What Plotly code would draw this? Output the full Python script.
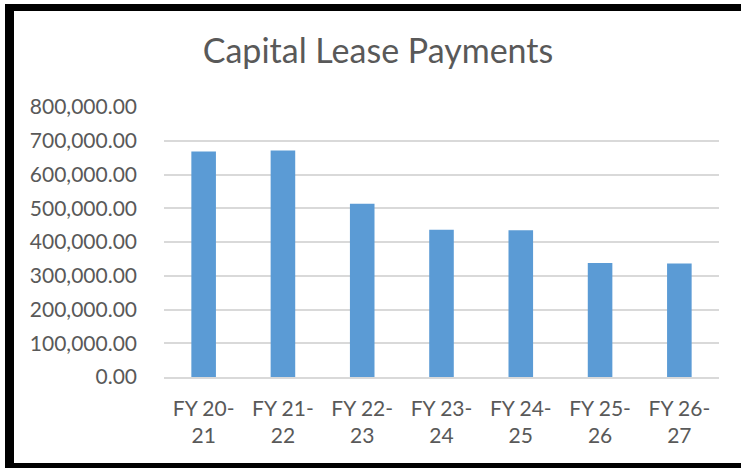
import plotly.graph_objects as go

categories = ["FY 20-<br>21", "FY 21-<br>22", "FY 22-<br>23", "FY 23-<br>24",
              "FY 24-<br>25", "FY 25-<br>26", "FY 26-<br>27"]
payments = [668000, 671000, 513000, 436000, 435000, 337500, 336500]
tick_vals = [0, 100000, 200000, 300000, 400000, 500000, 600000, 700000, 800000]
tick_text = ["0.00", "100,000.00", "200,000.00", "300,000.00", "400,000.00",
             "500,000.00", "600,000.00", "700,000.00", "800,000.00"]

W, H = 741, 468
L, R, T, B = 164, 22, 107, 91
pw, ph = W - L - R, H - T - B

def px(x):
    return (x - L) / pw

def py(y):
    return 1 - (y - T) / ph

fig = go.Figure(go.Bar(
    x=categories, y=payments, marker=dict(color="#5B9BD5", line=dict(width=0)),
    hoverinfo="x+y",
))

border = "#000000"
shapes = [
    dict(type="rect", xref="paper", yref="paper", x0=px(5), x1=px(14), y0=py(468), y1=py(4),
         fillcolor=border, line=dict(width=0), layer="above"),
    dict(type="rect", xref="paper", yref="paper", x0=px(5), x1=px(741), y0=py(11), y1=py(4),
         fillcolor=border, line=dict(width=0), layer="above"),
    dict(type="rect", xref="paper", yref="paper", x0=px(5), x1=px(741), y0=py(468), y1=py(463),
         fillcolor=border, line=dict(width=0), layer="above"),
]

fig.update_layout(
    width=W, height=H,
    margin=dict(l=L, r=R, t=T, b=B, autoexpand=False),
    paper_bgcolor="white", plot_bgcolor="white",
    font=dict(family="Lato, sans-serif", color="#595959", size=21),
    title=dict(text="Capital Lease Payments", x=378 / W, xref="container", xanchor="center",
               y=1 - 51 / H, yref="container", yanchor="middle",
               font=dict(size=34, color="#595959", family="Lato, sans-serif")),
    bargap=0.69,
    showlegend=False,
    shapes=shapes,
)
fig.update_xaxes(showgrid=False, showline=True, linecolor="#D9D9D9", linewidth=1.5,
                 ticks="", ticklabelstandoff=12, tickfont=dict(size=21, color="#595959"))
fig.update_yaxes(range=[0, 800000], tickvals=tick_vals, ticktext=tick_text,
                 showgrid=True, gridcolor="#D9D9D9", gridwidth=1.5,
                 zeroline=False, showline=False, ticks="", ticklabelstandoff=26,
                 tickfont=dict(size=21, color="#595959"))

fig.write_html("out.html", config={"displayModeBar": False},
               post_script="document.body.style.margin='0';document.body.style.overflow='hidden';")
